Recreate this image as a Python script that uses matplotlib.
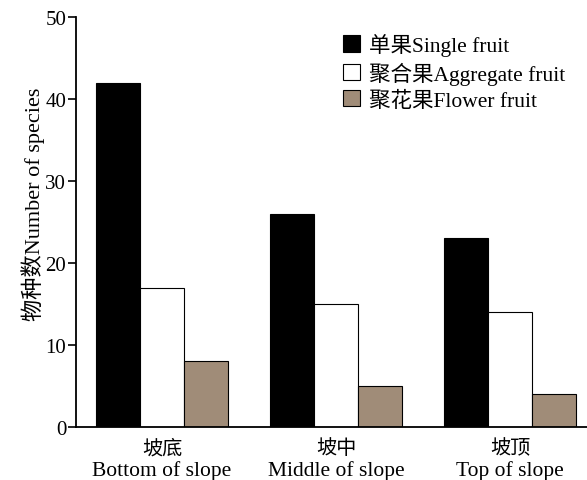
import numpy as np
import matplotlib.pyplot as plt
import matplotlib.transforms as mtransforms
from matplotlib.patches import Patch

plt.rcParams['font.family'] = ['Liberation Serif', 'Noto Sans CJK SC']

positions_cn = ['坡底', '坡中', '坡顶']
positions_en = ['Bottom of slope', 'Middle of slope', 'Top of slope']
single = [42, 26, 23]
aggregate = [17, 15, 14]
flower = [8, 5, 4]
series_names = ['单果Single fruit', '聚合果Aggregate fruit', '聚花果Flower fruit']
colors = ['#000000', '#ffffff', '#a08c78']

fig = plt.figure(figsize=(5.87, 4.81), dpi=100)
ax = fig.add_axes([0.1295, 0.110, 0.87, 0.8526])

x = np.arange(len(positions_cn))
w = 0.253
for i, (vals, name, c) in enumerate(zip([single, aggregate, flower], series_names, colors)):
    ax.bar(x + (i - 1) * w, vals, width=w, color=c, edgecolor='black', linewidth=0.8, label=name)

ax.set_xlim(-0.494, 2.44)
ax.set_ylim(0, 50)
ax.set_yticks(range(0, 51, 10))
ax.set_xticks(x)
ax.set_xticklabels([])
ax.tick_params(axis='x', length=0)
ax.tick_params(axis='y', labelsize=15, length=6, width=1.2, direction='out', pad=1)
ax.spines['top'].set_visible(False)
ax.spines['right'].set_visible(False)
ax.spines['left'].set_linewidth(1.3)
ax.spines['bottom'].set_linewidth(1.3)

# two-line category labels: Chinese on top, English below
trans = mtransforms.blended_transform_factory(ax.transData, fig.transFigure)
for xi, cn, en in zip(x, positions_cn, positions_en):
    ax.text(xi, 1 - 450 / 481, cn, transform=trans, ha='center', va='center', fontsize=14.5)
    ax.text(xi, 1 - 476 / 481, en, transform=trans, ha='center', va='baseline', fontsize=15.5)

ax.set_ylabel('物种数Number of species', fontsize=16)
ax.yaxis.set_label_coords(-0.06, 0.545)

handles = [Patch(facecolor=c, edgecolor='black', linewidth=0.8) for c in colors]
fig.legend(handles, series_names, loc='upper left', bbox_to_anchor=(343 / 587, 1 - 34 / 481),
           bbox_transform=fig.transFigure, frameon=False, borderpad=0, borderaxespad=0,
           fontsize=15.5, handlelength=0.8, handleheight=0.8, handletextpad=0.4, labelspacing=0.25)

fig.savefig('out.png', dpi=100)
